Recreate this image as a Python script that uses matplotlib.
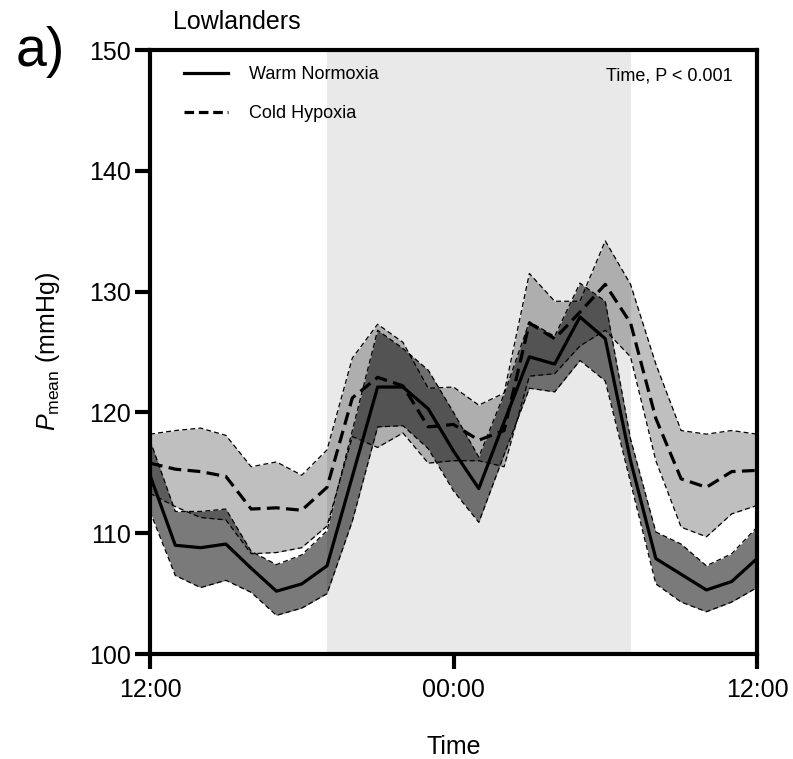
#!/usr/bin/env python3
import numpy as np
import matplotlib
matplotlib.use("Agg")
import matplotlib.pyplot as plt
from matplotlib.lines import Line2D

plt.rcParams.update({
    "font.family": ["Liberation Sans", "DejaVu Sans"],
    "mathtext.fontset": "custom",
    "mathtext.rm": "Liberation Sans",
    "mathtext.it": "Liberation Sans:italic",
})

# hours after 12:00 (hourly samples over 24 h)
hours = np.arange(25)

# Warm Normoxia: mean and SD band
wn_mean = [114.8, 109.0, 108.8, 109.1, 107.1, 105.2, 105.8, 107.3, 114.7, 122.1, 122.1, 120.3, 116.8,
           113.7, 119.2, 124.6, 124.0, 127.9, 126.1, 116.0, 107.9, 106.6, 105.3, 106.0, 107.9]
wn_upper = [117.7, 111.8, 111.8, 112.0, 108.5, 107.4, 108.2, 110.2, 118.5, 126.8, 125.3, 123.5, 120.0,
            116.3, 121.5, 127.5, 126.3, 130.7, 129.2, 117.8, 110.1, 109.1, 107.3, 108.3, 110.5]
wn_lower = [111.8, 106.5, 105.5, 106.1, 105.1, 103.2, 103.8, 105.0, 111.0, 118.8, 118.9, 117.0, 113.5,
            110.9, 116.5, 122.0, 121.7, 124.3, 122.6, 114.2, 105.8, 104.3, 103.5, 104.3, 105.5]

# Cold Hypoxia: mean and SD band
ch_mean = [115.8, 115.3, 115.1, 114.7, 112.0, 112.1, 111.9, 113.8, 121.2, 122.9, 122.2, 118.8, 119.0,
           117.7, 118.5, 127.4, 126.1, 128.3, 130.6, 127.4, 119.5, 114.5, 113.8, 115.1, 115.2]
ch_upper = [118.2, 118.5, 118.7, 118.1, 115.5, 115.9, 114.8, 116.9, 124.5, 127.3, 125.8, 122.0, 122.1,
            120.6, 121.6, 131.5, 129.2, 129.2, 134.2, 130.6, 124.0, 118.5, 118.2, 118.5, 118.2]
ch_lower = [113.3, 112.2, 111.3, 111.1, 108.3, 108.4, 108.8, 110.6, 118.0, 117.1, 118.3, 115.8, 116.0,
            116.0, 115.5, 123.0, 123.2, 125.5, 126.8, 124.6, 116.0, 110.5, 109.7, 111.6, 112.3]

night = (7, 19)  # 19:00 to 07:00
xticks = [0, 12, 24]
xticklabels = ["12:00", "00:00", "12:00"]

fig = plt.figure(figsize=(7.93, 7.59), dpi=100)
ax = fig.add_axes([150 / 793, 1 - 654 / 759, 607 / 793, 604 / 759])

ax.axvspan(*night, color="#e9e9e9", lw=0, zorder=0)

edge = dict(color="black", lw=0.9, ls=(0, (4, 2.5)), zorder=3)
ax.fill_between(hours, ch_lower, ch_upper, color="black", alpha=0.25, lw=0, zorder=1)
ax.fill_between(hours, wn_lower, wn_upper, color="black", alpha=0.52, lw=0, zorder=2)
for b in (ch_upper, ch_lower, wn_upper, wn_lower):
    ax.plot(hours, b, **edge)

ax.plot(hours, wn_mean, color="black", lw=2.3, zorder=4)
ax.plot(hours, ch_mean, color="black", lw=2.3, ls=(0, (4, 2)), zorder=4)

ax.set_xlim(0, 24)
ax.set_ylim(100, 150)
ax.set_yticks(range(100, 151, 10))
ax.set_xticks(xticks)
ax.set_xticklabels(xticklabels)
for s in ax.spines.values():
    s.set_linewidth(3)
ax.tick_params(axis="both", direction="out", length=11, width=3, labelsize=18, pad=3)
ax.tick_params(axis="x", pad=6)

ax.set_xlabel("Time", fontsize=18, labelpad=24)
ax.set_ylabel(r"$\mathit{P}_{\mathrm{mean}}$ (mmHg)", fontsize=18, labelpad=19)

handles = [Line2D([], [], color="black", lw=2.3),
           Line2D([], [], color="black", lw=2.3, ls=(0, (3, 1.5)))]
ax.legend(handles, ["Warm Normoxia", "Cold Hypoxia"], loc="upper left", frameon=False,
          fontsize=13, handlelength=2.4, handletextpad=1.2, labelspacing=1.2,
          bbox_to_anchor=(0.03, 1.0))
ax.text(0.96, 0.957, "Time, P < 0.001", transform=ax.transAxes, ha="right", va="center", fontsize=13)

fig.text(173 / 793, 1 - 22 / 759, "Lowlanders", fontsize=18, va="center", ha="left")
fig.text(16 / 793, 1 - 52 / 759, "a)", fontsize=40, va="center", ha="left")

fig.savefig("out.png", dpi=100)
